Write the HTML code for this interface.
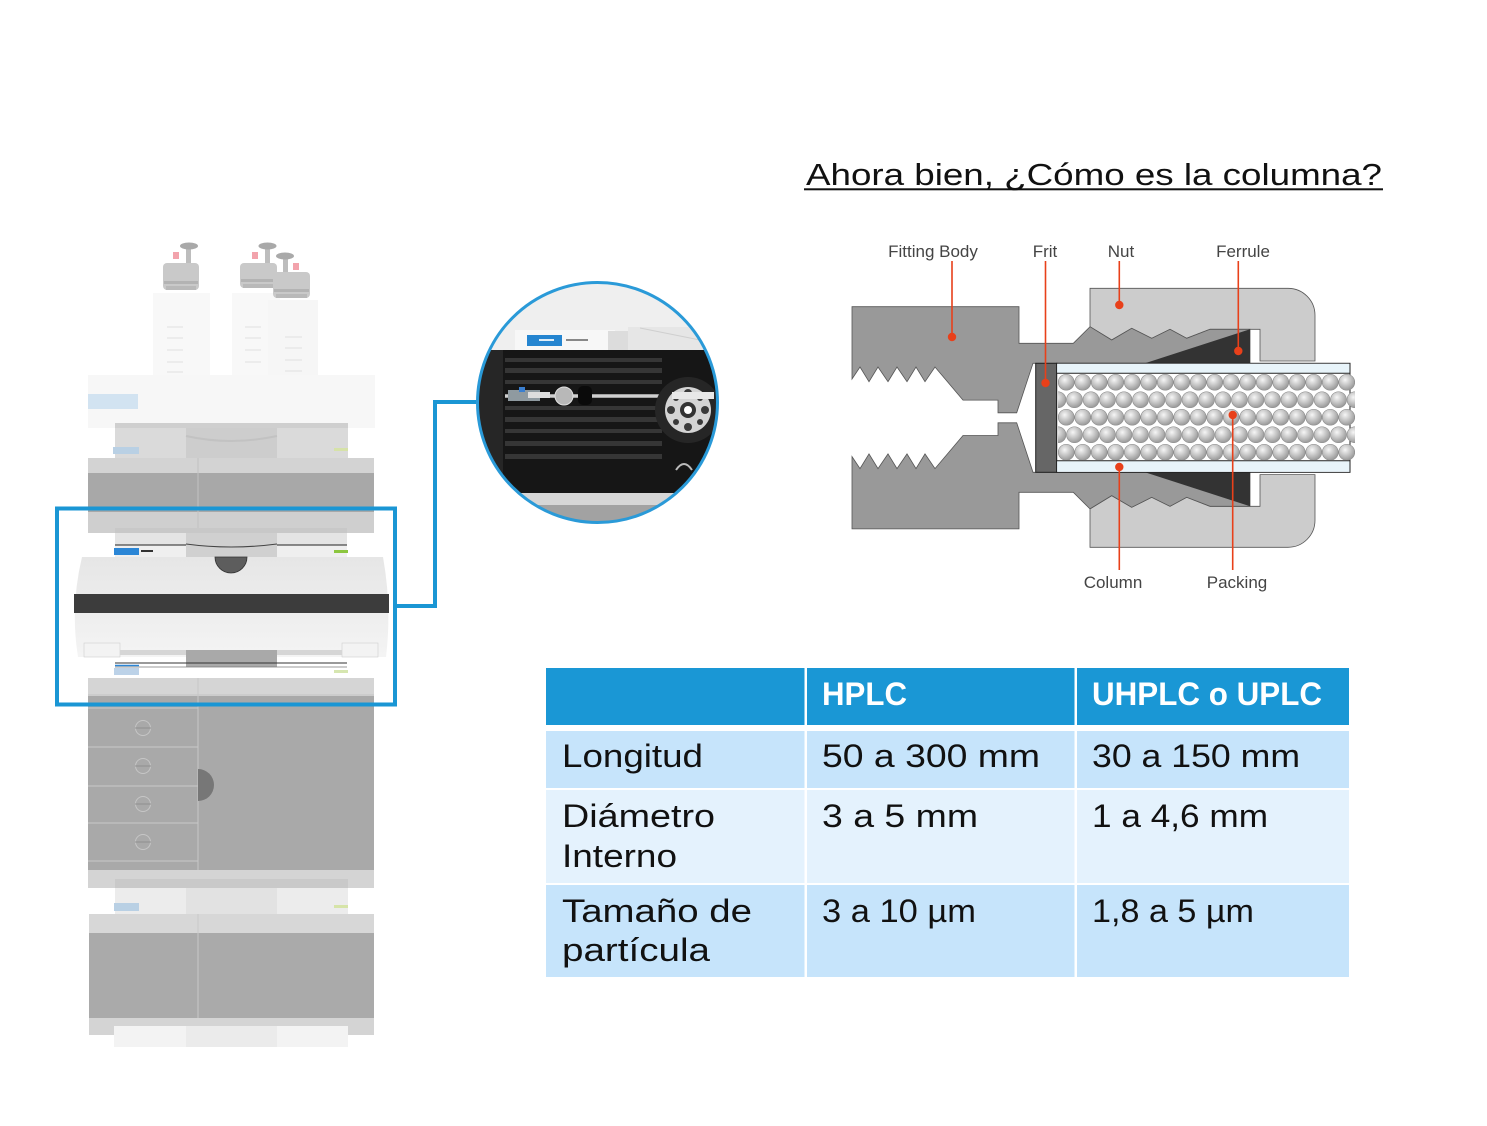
<!DOCTYPE html>
<html>
<head>
<meta charset="utf-8">
<style>
html,body{margin:0;padding:0;background:#fff;overflow:hidden;}
svg{display:block;}
text{font-family:"Liberation Sans",sans-serif;}
</style>
</head>
<body>
<svg width="1487" height="1126" viewBox="0 0 1487 1126" xmlns="http://www.w3.org/2000/svg">
<defs>
  <radialGradient id="sph" cx="40%" cy="35%" r="65%">
    <stop offset="0" stop-color="#f6f6f6"/>
    <stop offset="0.55" stop-color="#c4c4c4"/>
    <stop offset="1" stop-color="#9a9a9a"/>
  </radialGradient>
  <pattern id="pack" patternUnits="userSpaceOnUse" x="1058" y="373.5" width="33" height="35">
    <circle cx="8.25" cy="8.75" r="8" fill="url(#sph)" stroke="#8a8a8a" stroke-width="0.6"/>
    <circle cx="24.75" cy="8.75" r="8" fill="url(#sph)" stroke="#8a8a8a" stroke-width="0.6"/>
    <circle cx="0" cy="26.25" r="8" fill="url(#sph)" stroke="#8a8a8a" stroke-width="0.6"/>
    <circle cx="16.5" cy="26.25" r="8" fill="url(#sph)" stroke="#8a8a8a" stroke-width="0.6"/>
    <circle cx="33" cy="26.25" r="8" fill="url(#sph)" stroke="#8a8a8a" stroke-width="0.6"/>
  </pattern>
  <linearGradient id="comp" x1="0" y1="0" x2="0" y2="1">
    <stop offset="0" stop-color="#e6e6e6"/>
    <stop offset="1" stop-color="#f4f4f4"/>
  </linearGradient>
  <clipPath id="cc"><circle cx="597.5" cy="402.5" r="120"/></clipPath>
</defs>

<!-- ================= HPLC STACK ================= -->
<!-- bottles -->
<rect x="153" y="293" width="57" height="82" fill="#f8f8f8"/>
<rect x="232" y="293" width="48" height="82" fill="#f8f8f8"/>
<rect x="268" y="300" width="50" height="78" fill="#f6f6f6"/>
<g stroke="#e0e0e0" stroke-width="1">
  <line x1="167" y1="327" x2="183" y2="327"/><line x1="167" y1="338" x2="183" y2="338"/>
  <line x1="167" y1="350" x2="183" y2="350"/><line x1="167" y1="362" x2="183" y2="362"/>
  <line x1="167" y1="372" x2="183" y2="372"/>
  <line x1="245" y1="327" x2="261" y2="327"/><line x1="245" y1="338" x2="261" y2="338"/>
  <line x1="245" y1="350" x2="261" y2="350"/><line x1="245" y1="362" x2="261" y2="362"/>
  <line x1="285" y1="337" x2="302" y2="337"/><line x1="285" y1="348" x2="302" y2="348"/>
  <line x1="285" y1="360" x2="302" y2="360"/><line x1="285" y1="371" x2="302" y2="371"/>
</g>
<!-- caps -->
<g>
  <rect x="186" y="249" width="5" height="16" fill="#bdbdbd"/>
  <ellipse cx="189" cy="246" rx="9" ry="3.5" fill="#a9a9a9"/>
  <rect x="173" y="252" width="6" height="7" fill="#f2a3ac"/>
  <rect x="163" y="263" width="36" height="27" rx="4" fill="#c9c9c9"/>
  <rect x="164" y="281" width="34" height="3" fill="#b3b3b3"/>
  <rect x="166" y="286" width="30" height="4" fill="#b9b9b9"/>

  <rect x="265" y="249" width="5" height="16" fill="#bdbdbd"/>
  <ellipse cx="267.5" cy="246" rx="9" ry="3.5" fill="#a9a9a9"/>
  <rect x="252" y="252" width="6" height="7" fill="#f2a3ac"/>
  <rect x="240" y="263" width="37" height="25" rx="4" fill="#c9c9c9"/>
  <rect x="241" y="279" width="35" height="3" fill="#b3b3b3"/>
  <rect x="243" y="284" width="31" height="4" fill="#b9b9b9"/>

  <rect x="283" y="258" width="5" height="16" fill="#bdbdbd"/>
  <ellipse cx="285" cy="256" rx="9" ry="3.5" fill="#a9a9a9"/>
  <rect x="293" y="263" width="6" height="7" fill="#f2a3ac"/>
  <rect x="273" y="272" width="37" height="26" rx="4" fill="#c9c9c9"/>
  <rect x="274" y="289" width="35" height="3" fill="#b3b3b3"/>
  <rect x="276" y="294" width="31" height="4" fill="#b9b9b9"/>
</g>

<!-- solvent tray -->
<rect x="88" y="375" width="287" height="53" fill="#f7f7f7"/>
<rect x="88" y="394" width="50" height="15" fill="#d2e3f1"/>

<!-- degasser -->
<rect x="115" y="423" width="233" height="40" fill="#dadada"/>
<rect x="115" y="423" width="233" height="5" fill="#cfcfcf"/>
<rect x="186" y="428" width="91" height="30" fill="#cdcdcd"/>
<path d="M186,436 Q231,446 277,436" stroke="#c2c2c2" stroke-width="2" fill="none"/>
<rect x="115" y="458" width="233" height="5" fill="#bdbdbd"/>
<rect x="113" y="447" width="26" height="7" fill="#b9d0e4"/>
<rect x="334" y="448" width="14" height="3" fill="#d6e2a8"/>

<!-- pump -->
<rect x="88" y="458" width="286" height="15" fill="#d3d3d3"/>
<rect x="88" y="473" width="286" height="39" fill="#a8a8a8"/>
<rect x="88" y="512" width="286" height="21" fill="#cfcfcf"/>
<line x1="198" y1="458" x2="198" y2="533" stroke="#c2c2c2" stroke-width="1"/>

<!-- autosampler top -->
<rect x="115" y="528" width="232" height="5" fill="#c8c8c8"/>
<rect x="115" y="533" width="232" height="12" fill="#e4e4e4"/>
<rect x="115" y="545" width="232" height="12" fill="#efefef"/>
<rect x="186" y="533" width="91" height="24" fill="#d0d0d0"/>
<path d="M186,544 Q231,550 277,544" stroke="#444" stroke-width="1" fill="none"/>
<line x1="115" y1="545" x2="186" y2="545" stroke="#222" stroke-width="1"/>
<line x1="277" y1="545" x2="347" y2="545" stroke="#222" stroke-width="1"/>
<rect x="114" y="548" width="25" height="7" fill="#2b86d6"/>
<rect x="141" y="550" width="12" height="2" fill="#333"/>
<rect x="334" y="550" width="14" height="3" fill="#8cc63f"/>

<!-- column compartment -->
<path d="M82,557 L383,557 Q392,607 386,657 L78,657 Q70,607 82,557 Z" fill="url(#comp)"/>
<rect x="74" y="594" width="315" height="19" fill="#3c3c3c"/>
<path d="M215,557 A16,16 0 0 0 247,557 Z" fill="#5d5d5d" stroke="#333" stroke-width="0.8"/>
<rect x="84" y="643" width="36" height="14" fill="#f3f3f3" stroke="#cfcfcf" stroke-width="0.6"/>
<rect x="342" y="643" width="36" height="14" fill="#f3f3f3" stroke="#cfcfcf" stroke-width="0.6"/>
<rect x="120" y="650" width="222" height="5" fill="#d6d6d6"/>
<rect x="186" y="650" width="91" height="17" fill="#a9a9a9"/>
<line x1="115" y1="663" x2="347" y2="663" stroke="#333" stroke-width="1"/>
<line x1="115" y1="667" x2="347" y2="667" stroke="#777" stroke-width="0.8"/>
<line x1="115" y1="665.5" x2="139" y2="665.5" stroke="#2b86d6" stroke-width="1.5"/>
<rect x="114" y="668" width="25" height="7" fill="#bcd2e8"/>
<rect x="334" y="670" width="14" height="3" fill="#d6e6b0"/>

<!-- module with drawers -->
<rect x="88" y="678" width="286" height="18" fill="#d5d5d5"/>
<line x1="88" y1="695" x2="374" y2="695" stroke="#c2c2c2" stroke-width="1"/>
<rect x="88" y="696" width="286" height="174" fill="#a9a9a9"/>
<g stroke="#c9c9c9" stroke-width="1">
  <line x1="88" y1="708" x2="198" y2="708"/>
  <line x1="88" y1="747" x2="198" y2="747"/>
  <line x1="88" y1="786" x2="198" y2="786"/>
  <line x1="88" y1="823" x2="198" y2="823"/>
  <line x1="88" y1="861" x2="198" y2="861"/>
</g>
<g stroke="#c6c6c6" stroke-width="1" fill="none">
  <circle cx="143" cy="728" r="7.5"/><circle cx="143" cy="766" r="7.5"/>
  <circle cx="143" cy="804" r="7.5"/><circle cx="143" cy="842" r="7.5"/>
</g>
<g stroke="#8f8f8f" stroke-width="1">
  <line x1="135" y1="728" x2="151" y2="728"/><line x1="135" y1="766" x2="151" y2="766"/>
  <line x1="135" y1="804" x2="151" y2="804"/><line x1="135" y1="842" x2="151" y2="842"/>
</g>
<line x1="198" y1="678" x2="198" y2="870" stroke="#c6c6c6" stroke-width="1"/>
<path d="M198,769 A16,16 0 0 1 198,801 Z" fill="#777"/>
<rect x="88" y="870" width="286" height="18" fill="#d4d4d4"/>

<!-- detector -->
<rect x="115" y="879" width="233" height="9" fill="#c9c9c9"/>
<rect x="115" y="888" width="233" height="29" fill="#ececec"/>
<rect x="186" y="888" width="91" height="29" fill="#e2e2e2"/>
<rect x="114" y="903" width="25" height="8" fill="#b9d0e4"/>
<rect x="334" y="905" width="14" height="3" fill="#d6e4a8"/>

<!-- bottom module -->
<rect x="89" y="914" width="285" height="19" fill="#d7d7d7"/>
<rect x="89" y="933" width="285" height="85" fill="#aaaaaa"/>
<rect x="89" y="1018" width="285" height="17" fill="#d4d4d4"/>
<line x1="198" y1="914" x2="198" y2="1018" stroke="#c8c8c8" stroke-width="1"/>
<rect x="114" y="1026" width="234" height="21" fill="#f3f3f3"/>
<rect x="186" y="1026" width="91" height="21" fill="#ebebeb"/>

<!-- highlight box & connector -->
<rect x="57" y="508.5" width="338" height="196" fill="none" stroke="#1a96d4" stroke-width="4"/>
<path d="M395,606 H435 V402 H479" fill="none" stroke="#1a96d4" stroke-width="4"/>

<!-- ================= ZOOM CIRCLE ================= -->
<g clip-path="url(#cc)">
  <rect x="470" y="275" width="260" height="80" fill="#efefef"/>
  <rect x="515" y="330" width="100" height="20" fill="#f7f7f7"/>
  <rect x="527" y="335" width="35" height="11" fill="#2585d0"/>
  <rect x="539" y="339" width="15" height="2" fill="#ffffff" opacity="0.85"/>
  <rect x="566" y="339" width="22" height="2" fill="#888"/>
  <rect x="608" y="331" width="20" height="19" fill="#dcdcdc"/>
  <rect x="628" y="327" width="95" height="23" fill="#e6e6e6"/>
  <line x1="640" y1="328" x2="700" y2="340" stroke="#cfcfcf" stroke-width="1"/>
  <rect x="470" y="350" width="260" height="143" fill="#161616"/>
  <rect x="477" y="350" width="26" height="143" fill="#262626"/>
  <g fill="#363636">
    <rect x="505" y="358" width="157" height="4"/>
    <rect x="505" y="368" width="157" height="5"/>
    <rect x="505" y="380" width="157" height="4"/>
    <rect x="505" y="406" width="157" height="4"/>
    <rect x="505" y="417" width="157" height="5"/>
    <rect x="505" y="429" width="157" height="4"/>
    <rect x="505" y="441" width="157" height="5"/>
    <rect x="505" y="454" width="157" height="5"/>
  </g>
  <line x1="505" y1="396" x2="722" y2="396" stroke="#cfcfcf" stroke-width="3.5"/>
  <rect x="508" y="390" width="32" height="11" fill="#8f9aa0"/>
  <rect x="519" y="387" width="6" height="5" fill="#3a7fd0"/>
  <rect x="528" y="392" width="22" height="6" fill="#dddddd"/>
  <circle cx="564" cy="396" r="9" fill="#b8b8b8" stroke="#e0e0e0" stroke-width="1"/>
  <rect x="578" y="386" width="14" height="19" rx="5" fill="#0a0a0a"/>
  <circle cx="688" cy="410" r="33" fill="#262626"/>
  <circle cx="688" cy="410" r="23" fill="#d4d4d4"/>
  <g fill="#3a3a3a">
    <circle cx="688" cy="393" r="4"/><circle cx="705" cy="410" r="4"/>
    <circle cx="688" cy="427" r="4"/><circle cx="671" cy="410" r="4"/>
    <circle cx="700" cy="398" r="3"/><circle cx="676" cy="422" r="3"/>
    <circle cx="700" cy="422" r="3"/><circle cx="676" cy="398" r="3"/>
  </g>
  <circle cx="688" cy="410" r="8" fill="#333"/>
  <circle cx="688" cy="410" r="4" fill="#fff"/>
  <rect x="672" y="392" width="42" height="7" fill="#e8e8e8"/>
  <path d="M676,470 Q684,458 692,470" stroke="#bbb" stroke-width="2" fill="none"/>
  <rect x="470" y="493" width="260" height="12" fill="#d6d6d6"/>
  <rect x="470" y="505" width="260" height="25" fill="#a2a2a2"/>
</g>
<circle cx="597.5" cy="402.5" r="120" fill="none" stroke="#2a9ad8" stroke-width="3"/>

<!-- ================= TITLE ================= -->
<text x="806" y="185" font-size="31" fill="#111" textLength="576" lengthAdjust="spacingAndGlyphs">Ahora bien, ¿Cómo es la columna?</text>
<rect x="804" y="188.3" width="579" height="2" fill="#111"/>

<!-- ================= COLUMN DIAGRAM ================= -->
<g stroke="#555" stroke-width="0.8">
  <!-- nut top -->
  <path d="M1090,288.3 L1288,288.3 A27,27 0 0 1 1315,315.3 L1315,361 L1260,361 L1260,329.3 L1210,329.3 L1186.7,338.3 L1170,329.3 L1151.7,338.3 L1131.7,328.3 L1111.7,340 L1090,326.7 Z" fill="#cccccc"/>
  <!-- nut bottom (mirror) -->
  <path transform="matrix(1 0 0 -1 0 835.6)" d="M1090,288.3 L1288,288.3 A27,27 0 0 1 1315,315.3 L1315,361 L1260,361 L1260,329.3 L1210,329.3 L1186.7,338.3 L1170,329.3 L1151.7,338.3 L1131.7,328.3 L1111.7,340 L1090,326.7 Z" fill="#cccccc"/>
  <!-- fitting body top -->
  <path d="M852,306.7 L1019,306.7 L1019,343.3 L1073.3,343.3 L1090,326.7 L1111.7,340 L1131.7,328.3 L1151.7,338.3 L1170,329.3 L1186.7,338.3 L1210,329.3 L1250,329.3 L1250,363.3 L1033,363.3 L1016.7,412.8 L998,412.8 L998,400.1 L963,400.1 L935,367 L925,381.7 L916,367 L907,381.7 L897,367 L888,381.7 L878,367 L869,381.7 L860,367 L852,379 Z" fill="#999999"/>
  <!-- fitting body bottom -->
  <path transform="matrix(1 0 0 -1 0 835.6)" d="M852,306.7 L1019,306.7 L1019,343.3 L1073.3,343.3 L1090,326.7 L1111.7,340 L1131.7,328.3 L1151.7,338.3 L1170,329.3 L1186.7,338.3 L1210,329.3 L1250,329.3 L1250,363.3 L1033,363.3 L1016.7,412.8 L998,412.8 L998,400.1 L963,400.1 L935,367 L925,381.7 L916,367 L907,381.7 L897,367 L888,381.7 L878,367 L869,381.7 L860,367 L852,379 Z" fill="#999999"/>
</g>
<!-- ferrule -->
<polygon points="1145,363.3 1250,329.3 1250,363.3" fill="#333"/>
<polygon points="1145,472.3 1250,506.3 1250,472.3" fill="#333"/>
<!-- frit -->
<rect x="1035.7" y="363.3" width="21" height="109" fill="#666" stroke="#222" stroke-width="1"/>
<!-- column -->
<rect x="1056.7" y="363.3" width="293.3" height="109" fill="#fff" stroke="#222" stroke-width="1"/>
<rect x="1057.2" y="363.8" width="292.3" height="9.5" fill="#e8f4fa"/>
<rect x="1057.2" y="461" width="292.3" height="10.8" fill="#e8f4fa"/>
<line x1="1056.7" y1="373.3" x2="1350" y2="373.3" stroke="#222" stroke-width="1"/>
<line x1="1056.7" y1="460.7" x2="1350" y2="460.7" stroke="#222" stroke-width="1"/>
<rect x="1058" y="373.5" width="297" height="87.5" fill="url(#pack)"/>

<!-- leader lines -->
<g stroke="#e8401a" stroke-width="1.6">
  <line x1="952" y1="261" x2="952" y2="337"/>
  <line x1="1045.5" y1="261" x2="1045.5" y2="383"/>
  <line x1="1119.3" y1="261" x2="1119.3" y2="305"/>
  <line x1="1238.3" y1="261" x2="1238.3" y2="351"/>
  <line x1="1119.3" y1="467" x2="1119.3" y2="570"/>
  <line x1="1232.7" y1="415" x2="1232.7" y2="570"/>
</g>
<g fill="#e8401a">
  <circle cx="952" cy="337" r="4.2"/>
  <circle cx="1045.5" cy="383" r="4.2"/>
  <circle cx="1119.3" cy="305" r="4.2"/>
  <circle cx="1238.3" cy="351" r="4.2"/>
  <circle cx="1119.3" cy="467" r="4.2"/>
  <circle cx="1232.7" cy="415" r="4.2"/>
</g>
<g font-size="17" fill="#444" text-anchor="middle">
  <text x="933" y="257">Fitting Body</text>
  <text x="1045" y="257">Frit</text>
  <text x="1121" y="257">Nut</text>
  <text x="1243" y="257">Ferrule</text>
  <text x="1113" y="588">Column</text>
  <text x="1237" y="588">Packing</text>
</g>

<!-- ================= TABLE ================= -->
<rect x="546" y="668" width="803" height="57" fill="#1a97d5"/>
<rect x="546" y="731" width="803" height="57" fill="#c6e4fb"/>
<rect x="546" y="790" width="803" height="93" fill="#e4f2fd"/>
<rect x="546" y="885" width="803" height="92" fill="#c6e4fb"/>
<rect x="804.5" y="668" width="2.5" height="309" fill="#fff"/>
<rect x="1074.5" y="668" width="2.5" height="309" fill="#fff"/>

<g font-size="32" font-weight="bold" fill="#fff">
  <text x="822" y="705" textLength="85" lengthAdjust="spacingAndGlyphs">HPLC</text>
  <text x="1092" y="705" textLength="230" lengthAdjust="spacingAndGlyphs">UHPLC o UPLC</text>
</g>
<g font-size="32" fill="#111">
  <text x="562" y="767" textLength="141" lengthAdjust="spacingAndGlyphs">Longitud</text>
  <text x="822" y="767" textLength="218" lengthAdjust="spacingAndGlyphs">50 a 300 mm</text>
  <text x="1092" y="767" textLength="208" lengthAdjust="spacingAndGlyphs">30 a 150 mm</text>
  <text x="562" y="827" textLength="153" lengthAdjust="spacingAndGlyphs">Diámetro</text>
  <text x="562" y="867" textLength="115" lengthAdjust="spacingAndGlyphs">Interno</text>
  <text x="822" y="827" textLength="156" lengthAdjust="spacingAndGlyphs">3 a 5 mm</text>
  <text x="1092" y="827" textLength="176" lengthAdjust="spacingAndGlyphs">1 a 4,6 mm</text>
  <text x="562" y="922" textLength="190" lengthAdjust="spacingAndGlyphs">Tamaño de</text>
  <text x="562" y="961" textLength="148" lengthAdjust="spacingAndGlyphs">partícula</text>
  <text x="822" y="922" textLength="154" lengthAdjust="spacingAndGlyphs">3 a 10 µm</text>
  <text x="1092" y="922" textLength="162" lengthAdjust="spacingAndGlyphs">1,8 a 5 µm</text>
</g>
</svg>
</body>
</html>
